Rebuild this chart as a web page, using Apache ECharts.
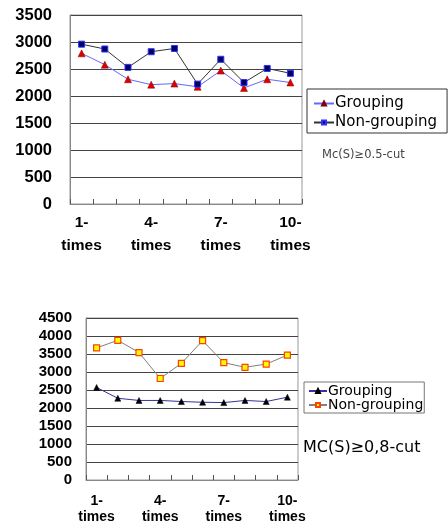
<!DOCTYPE html>
<html><head><meta charset="utf-8">
<script src="https://cdn.jsdelivr.net/npm/echarts@6/dist/echarts.min.js"></script>
<style>html,body{margin:0;padding:0;background:#fff}#c{width:448px;height:528px}</style>
</head><body><div id="c"></div>
<script>
var categories = ['1-\ntimes','2-\ntimes','3-\ntimes','4-\ntimes','5-\ntimes','6-\ntimes','7-\ntimes','8-\ntimes','9-\ntimes','10-\ntimes'];
var topGrouping = [2790, 2580, 2310, 2210, 2230, 2170, 2470, 2150, 2310, 2250];
var topNonGrouping = [2960, 2870, 2530, 2820, 2880, 2220, 2680, 2250, 2510, 2420];
var botGrouping = [2570, 2270, 2210, 2210, 2180, 2160, 2150, 2210, 2180, 2300];
var botNonGrouping = [3670, 3880, 3540, 2820, 3240, 3870, 3260, 3130, 3220, 3470];
var topLabel = 'Mc(S)\u22650.5-cut';
var botLabel = 'MC(S)\u22650,8-cut';

var FF = '"Liberation Sans", Arial, sans-serif';
var DF = '"DejaVu Sans", sans-serif';
var chart = echarts.init(document.getElementById('c'));
function xAxis(gi, fs, lh, margin){
  return {type:'category', gridIndex:gi, data:categories, boundaryGap:true,
    axisLine:{lineStyle:{color:'#888',width:1}},
    axisTick:{show:true, inside:true, length:5, interval:0, lineStyle:{color:'#555'}},
    axisLabel:{interval:2, fontFamily:FF, fontWeight:'bold', fontSize:fs, lineHeight:lh, color:'#000', margin:margin}
  };
}
function yAxis(gi, max, fs, margin, gridColor){
  return {type:'value', gridIndex:gi, min:0, max:max, interval:500,
    axisLine:{show:true, lineStyle:{color:'#888'}}, axisTick:{show:false},
    splitLine:{show:true, lineStyle:{color:gridColor, width:1}},
    axisLabel:{fontFamily:FF, fontWeight:'bold', fontSize:fs, color:'#000', margin:margin,
      formatter:function(v){return String(v);}}
  };
}
chart.setOption({
  animation:false,
  grid:[
    {left:70, top:15, width:232, height:189, show:true, borderColor:'#999', borderWidth:1, backgroundColor:'#fff'},
    {left:86, top:318, width:212, height:162, show:true, borderColor:'#999', borderWidth:1, backgroundColor:'#fff'}
  ],
  xAxis:[xAxis(0, 15.5, 23, 7), xAxis(1, 14, 16, 13)],
  yAxis:[yAxis(0, 3500, 16.5, 18, '#444'), yAxis(1, 4500, 15, 14, '#444')],
  legend:[
    {left:307, top:89, orient:'vertical', itemGap:4, itemWidth:20, itemHeight:5,
     borderColor:'#333', borderWidth:1, padding:[7,10,3,6],
     data:['Grouping','Non-grouping'],
     textStyle:{fontFamily:DF, fontSize:15, color:'#000', padding:[0,0,0,-4]}},
    {left:304, top:382, orient:'vertical', itemGap:0, itemWidth:18, itemHeight:5,
     borderColor:'#777', borderWidth:1, padding:[2,1,1,4],
     data:['Grouping2','Non-grouping2'],
     formatter:function(n){return n.replace(/2$/,'');},
     textStyle:{fontFamily:DF, fontSize:14, lineHeight:11, color:'#000', padding:[0,0,0,-4]}}
  ],
  graphic:[
    {type:'text', left:322, top:149, style:{text:topLabel, font:'11.5px '+DF, fill:'#444'}},
    {type:'text', left:303, top:440, style:{text:botLabel, font:'16px '+DF, fill:'#000'}}
  ],
  series:[
    {name:'Grouping', type:'line', xAxisIndex:0, yAxisIndex:0, data:topGrouping,
     symbol:'triangle', symbolSize:7, lineStyle:{color:'#6666ff', width:1},
     itemStyle:{color:'#e00000', borderColor:'#800000', borderWidth:0.5}},
    {name:'Non-grouping', type:'line', xAxisIndex:0, yAxisIndex:0, data:topNonGrouping,
     symbol:'rect', symbolSize:6, lineStyle:{color:'#333', width:1},
     itemStyle:{color:'#000060', borderColor:'#3030ff', borderWidth:1}},
    {name:'Grouping2', type:'line', xAxisIndex:1, yAxisIndex:1, data:botGrouping,
     symbol:'triangle', symbolSize:6, lineStyle:{color:'#333399', width:1},
     itemStyle:{color:'#000', borderColor:'#000', borderWidth:0.5}},
    {name:'Non-grouping2', type:'line', xAxisIndex:1, yAxisIndex:1, data:botNonGrouping,
     symbol:'rect', symbolSize:6, lineStyle:{color:'#808080', width:1},
     itemStyle:{color:'#ffff00', borderColor:'#ff4000', borderWidth:1.2}}
  ]
});
</script></body></html>
